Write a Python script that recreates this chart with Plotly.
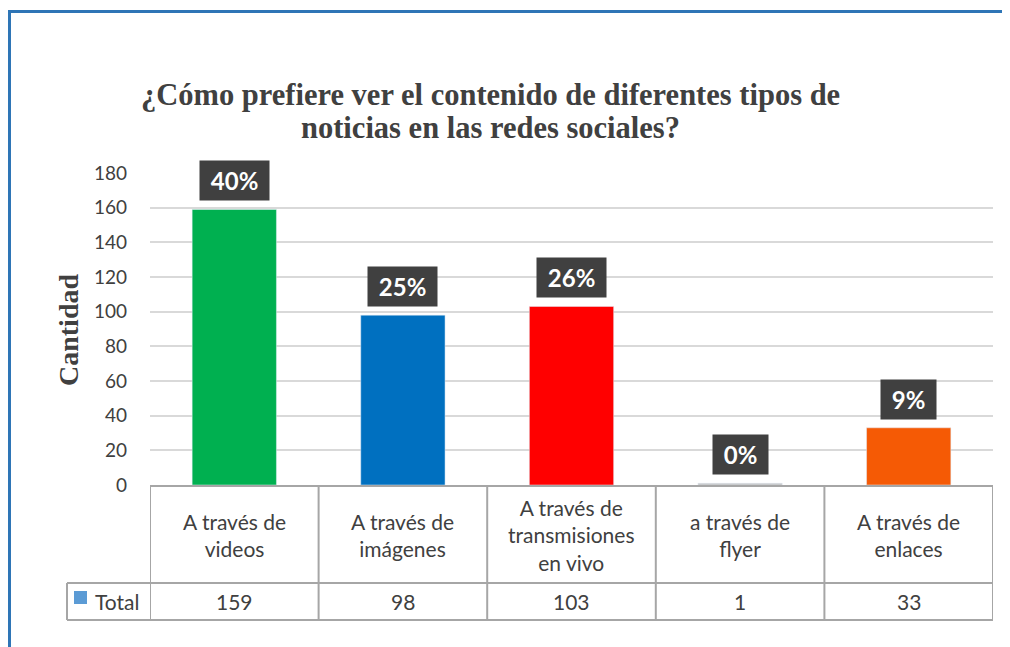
import plotly.graph_objects as go

# data
categorias = ["A través de<br>videos", "A través de<br>imágenes",
              "A través de<br>transmisiones<br>en vivo", "a través de<br>flyer",
              "A través de<br>enlaces"]
total = [159, 98, 103, 1, 33]
porcentajes = [40, 25, 26, 0, 9]
colores = ["#00B050", "#0070C0", "#FF0000", "#BFBFBF", "#F55A05"]
y_ticks = [0, 20, 40, 60, 80, 100, 120, 140, 160, 180]
titulo = ["¿Cómo prefiere ver el contenido de diferentes tipos de",
          "noticias en las redes sociales?"]

W, H = 1010, 647
OFF = 8  # the page body has an 8px margin
L, R, T, B = 150 - OFF, 1010 - 993 + OFF, 173 - OFF, 647 - 485 + OFF
pw, ph = W - L - R, H - T - B


# reference-image pixels -> paper coords
def px_x(p):
    return (p - OFF - L) / pw


def px_y(p):
    return (H - B - (p - OFF)) / ph


x = list(range(len(total)))

fig = go.Figure(go.Bar(
    x=x, y=total, marker_color=colores, width=0.5, showlegend=False,
))

txt_font = dict(family="Lato, Noto Sans, sans-serif", size=21, color="#404040")
tick_font = dict(family="Lato, Noto Sans, sans-serif", size=19, color="#404040")
serif_bold = dict(family="Liberation Serif, serif", size=30.5, color="#404040", weight="bold")
grid_col = "#A6A6A6"

anns = []
# titulo (dos lineas)
for yy, t in zip([95, 128], titulo):
    anns.append(dict(x=px_x(490), y=px_y(yy), xref="paper", yref="paper", text=t,
                     showarrow=False, xanchor="center", yanchor="middle", font=serif_bold))

# etiquetas de porcentaje
for i, (v, p) in enumerate(zip(total, porcentajes)):
    anns.append(dict(x=i, y=v, xref="x", yref="y", yanchor="bottom", yshift=8,
                     text=f" {p}% ", showarrow=False,
                     bgcolor="#404040", borderpad=5,
                     font=dict(family="Lato, sans-serif", size=24, color="white", weight="bold")))

# tabla de datos
row1_top, row1_bot, row2_bot = 487, 583, 620
for i, (c, v) in enumerate(zip(categorias, total)):
    anns.append(dict(x=i, y=px_y((row1_top + row1_bot) / 2), xref="x", yref="paper",
                     text=c, showarrow=False, font=txt_font, xanchor="center", yanchor="middle"))
    anns.append(dict(x=i, y=px_y((row1_bot + row2_bot) / 2), xref="x", yref="paper",
                     text=str(v), showarrow=False, font=txt_font, xanchor="center", yanchor="middle"))
anns.append(dict(x=px_x(93), y=px_y((row1_bot + row2_bot) / 2), xref="paper", yref="paper",
                 text="Total", showarrow=False, font=txt_font, xanchor="left", yanchor="middle"))
# titulo eje y
anns.append(dict(x=px_x(68), y=px_y(330), xref="paper", yref="paper", text="Cantidad",
                 textangle=-90, showarrow=False, xanchor="center", yanchor="middle",
                 font=dict(serif_bold, size=28)))

shapes = []
line = dict(color=grid_col, width=2)
for k in range(len(total) + 1):
    shapes.append(dict(type="line", xref="x", yref="paper", x0=k - 0.5, x1=k - 0.5,
                       y0=px_y(row1_top), y1=px_y(row2_bot), line=line))
for yy, x0 in [(486, 150), (row1_bot, 67), (row2_bot, 67)]:
    shapes.append(dict(type="line", xref="paper", yref="paper", x0=px_x(x0), x1=1,
                       y0=px_y(yy), y1=px_y(yy), line=line))
shapes.append(dict(type="line", xref="paper", yref="paper", x0=px_x(67), x1=px_x(67),
                   y0=px_y(row1_bot), y1=px_y(row2_bot), line=line))
# marcador leyenda
shapes.append(dict(type="rect", xref="paper", yref="paper", x0=px_x(74), x1=px_x(87),
                   y0=px_y(604), y1=px_y(591), fillcolor="#5B9BD5", line_width=0))
# marco azul
shapes.append(dict(type="rect", xref="paper", yref="paper", x0=px_x(9.5), x1=px_x(1030),
                   y0=px_y(670), y1=px_y(11.5), line=dict(color="#2E75B6", width=3)))

fig.update_layout(
    width=W, height=H,
    margin=dict(l=L, r=R, t=T, b=B),
    paper_bgcolor="white", plot_bgcolor="white",
    xaxis=dict(range=[-0.5, len(total) - 0.5], showticklabels=False, showgrid=False,
               zeroline=False, fixedrange=True),
    yaxis=dict(range=[0, 180], tickvals=y_ticks, showgrid=True, gridcolor="#D9D9D9",
               gridwidth=1.5, zeroline=False, tickfont=tick_font, ticks="",
               ticklabelstandoff=22),
    annotations=anns, shapes=shapes, bargap=0.5,
)

fig.write_html("out.html")
